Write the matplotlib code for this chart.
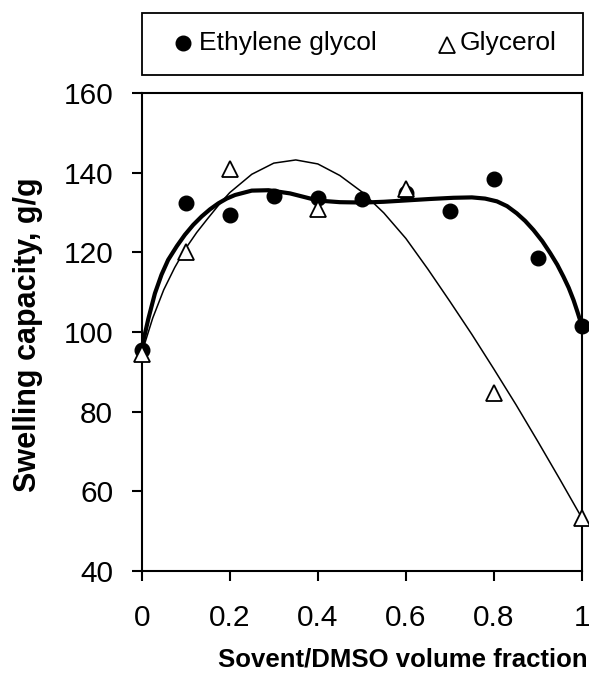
import matplotlib
matplotlib.use("Agg")
import matplotlib.pyplot as plt
from matplotlib.patches import Rectangle
from matplotlib.lines import Line2D

plt.rcParams['font.family'] = ['Liberation Sans', 'DejaVu Sans']

# Data
eg_x = [0.0, 0.1, 0.2, 0.3, 0.4, 0.5, 0.6, 0.7, 0.8, 0.9, 1.0]
eg_y = [95.5, 132.3, 129.4, 134.2, 133.6, 133.4, 135.0, 130.4, 138.3, 118.5, 101.6]
gl_x = [0.0, 0.1, 0.2, 0.4, 0.6, 0.8, 1.0]
gl_y = [94.5, 120.2, 140.9, 130.8, 135.8, 84.7, 53.3]

# Trend curves
eg_fit_x = [0.0, 0.015, 0.030, 0.045, 0.060, 0.080, 0.098, 0.117, 0.136, 0.155, 0.174,
            0.193, 0.212, 0.25, 0.288, 0.337, 0.401, 0.45, 0.504, 0.55, 0.595, 0.655,
            0.708, 0.75, 0.78, 0.807, 0.83, 0.852, 0.871, 0.890, 0.910, 0.928, 0.944,
            0.958, 0.970, 0.981, 0.990, 1.0]
eg_fit_y = [96.0, 103.3, 109.7, 114.4, 118.1, 121.6, 124.4, 126.9, 129.0, 130.8, 132.3,
            133.5, 134.4, 135.5, 135.6, 134.8, 133.0, 132.6, 132.5, 132.7, 133.0, 133.4,
            133.7, 133.8, 133.5, 132.8, 131.6, 129.8, 127.9, 125.6, 122.8, 119.8, 116.9,
            113.9, 111.1, 108.0, 105.0, 101.5]
gl_fit_x = [0.0, 0.025, 0.05, 0.075, 0.1, 0.125, 0.15, 0.175, 0.2, 0.25, 0.3, 0.35,
            0.4, 0.45, 0.5, 0.55, 0.6, 0.65, 0.7, 0.75, 0.8, 0.85, 0.9, 0.95, 1.0]
gl_fit_y = [94.7, 103.5, 110.6, 116.2, 121.0, 125.0, 128.5, 131.9, 135.0, 139.6, 142.4,
            143.2, 142.2, 139.3, 135.2, 129.9, 123.5, 115.8, 107.7, 99.4, 90.7, 81.8,
            72.5, 63.0, 53.3]

x_ticks = [0, 0.2, 0.4, 0.6, 0.8, 1]
x_tick_labels = ['0', '0.2', '0.4', '0.6', '0.8', '1']
y_ticks = [40, 60, 80, 100, 120, 140, 160]

fig = plt.figure(figsize=(5.89, 6.79), dpi=100)
ax = fig.add_axes([0.2406, 0.159, 0.7474, 0.704])

ax.plot(eg_fit_x, eg_fit_y, color='black', lw=3.0, zorder=2,
        solid_capstyle='round', solid_joinstyle='round')
ax.plot(gl_fit_x, gl_fit_y, color='black', lw=1.1, zorder=2, solid_joinstyle='round')
ax.plot(eg_x, eg_y, 'o', color='black', ms=10.5, zorder=3, clip_on=False)
ax.plot(gl_x, gl_y, '^', mfc='white', mec='black', mew=1.3, ms=12, zorder=4, clip_on=False)

ax.set_xlim(0, 1)
ax.set_ylim(40, 160)
ax.set_xticks(x_ticks)
ax.set_xticklabels(x_tick_labels)
ax.set_yticks(y_ticks)
ax.tick_params(direction='out', length=7, width=1.5, labelsize=21.5)
ax.tick_params(axis='y', pad=13.5)
ax.tick_params(axis='x', pad=17)
for s in ax.spines.values():
    s.set_linewidth(1.5)

ax.set_xlabel('Sovent/DMSO volume fraction', fontsize=18.5, fontweight='bold')
ax.xaxis.set_label_coords(0.592, -0.186)
ax.xaxis.label.set_va('center')
ax.set_ylabel('Swelling capacity, g/g', fontsize=22, fontweight='bold')
ax.yaxis.set_label_coords(-0.258, 0.494)
ax.yaxis.label.set_va('center')

# Legend box at top
fig.patches.append(Rectangle((0.2416, 0.8895), 0.748, 0.0909, transform=fig.transFigure,
                             fill=False, edgecolor='black', lw=1.3))
fig.lines.append(Line2D([183 / 589], [1 - 43 / 679], transform=fig.transFigure,
                        marker='o', color='black', ms=10.5, ls='none'))
fig.text(199 / 589, 1 - 43 / 679, 'Ethylene glycol', fontsize=19, va='center', ha='left')
fig.lines.append(Line2D([447 / 589], [1 - 45 / 679], transform=fig.transFigure,
                        marker='^', mfc='white', mec='black', mew=1.3, ms=12, ls='none'))
fig.text(460 / 589, 1 - 43 / 679, 'Glycerol', fontsize=19, va='center', ha='left')

fig.savefig('out.png', dpi=100)
